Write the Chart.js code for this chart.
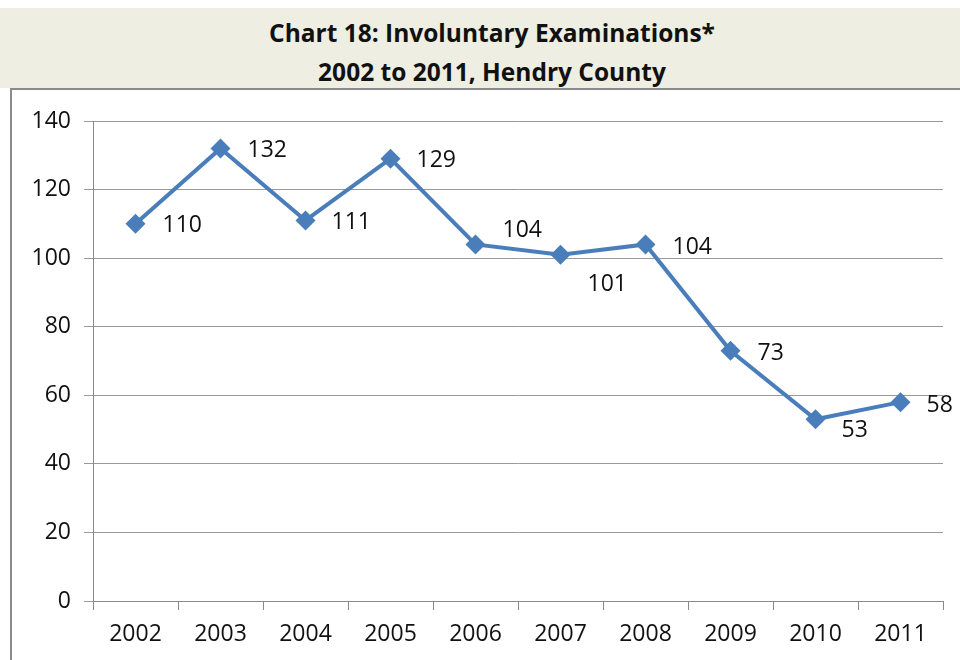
<!DOCTYPE html>
<html>
<head>
<meta charset="utf-8">
<script src="https://cdn.jsdelivr.net/npm/chart.js@4.4.0/dist/chart.umd.min.js"></script>
<style>
    body { margin: 0; background: #fff; width: 960px; height: 660px; overflow: hidden; }
    .band {
        position: absolute; left: 0; top: 8px; width: 960px; height: 80px;
        background: #eeeee2; text-align: center;
        font-family: "Open Sans", sans-serif; font-weight: bold;
        font-size: 24.5px; color: #111; line-height: 39px;
        padding-top: 5px; padding-left: 24px; box-sizing: border-box;
    }
    .box {
        position: absolute; left: 10px; top: 88px; width: 950px; height: 572px;
        border-left: 2px solid #8a8a8a; border-top: 2px solid #8a8a8a;
    }
</style>
</head>
<body>
<div class="band">Chart 18: Involuntary Examinations*<br>2002 to 2011, Hendry County</div>
<div class="box"><canvas id="c" width="948" height="570"></canvas></div>
<script>
const years = ["2002", "2003", "2004", "2005", "2006", "2007", "2008", "2009", "2010", "2011"];
const exams = [110, 132, 111, 129, 104, 101, 104, 73, 53, 58];
const yTicks = [0, 20, 40, 60, 80, 100, 120, 140];

const FONT = "'Open Sans', 'DejaVu Sans', sans-serif";

/* value labels, each nudged off its point like the original */
const labelPlugin = {
    id: "valueLabels",
    afterDatasetsDraw(chart, args, opts) {
        const ctx = chart.ctx;
        const meta = chart.getDatasetMeta(0);
        ctx.save();
        ctx.font = "23px " + FONT;
        ctx.fillStyle = "#111";
        ctx.textBaseline = "middle";
        ctx.textAlign = "left";
        meta.data.forEach((pt, i) => {
            const o = opts.offsets[i];
            ctx.fillText(chart.data.datasets[0].data[i], pt.x + o[0], pt.y + o[1]);
        });
        ctx.restore();
    }
};

new Chart(document.getElementById("c"), {
    type: "line",
    data: {
        labels: years,
        datasets: [{
            data: exams,
            borderColor: "#4a7ebb",
            backgroundColor: "#4a7ebb",
            borderWidth: 4,
            pointStyle: "rectRot",
            pointRadius: 10,
            pointBorderWidth: 0,
            tension: 0
        }]
    },
    options: {
        responsive: false,
        animation: false,
        layout: { padding: { top: 31, right: 17, left: 0, bottom: 0 } },
        plugins: {
            legend: { display: false },
            tooltip: { enabled: false },
            valueLabels: {
                offsets: [[27, 2], [27, 2], [26, 2], [26, 2], [27, -14], [27, 30], [27, 3], [27, 3], [26, 11], [26, 3]]
            }
        },
        scales: {
            x: {
                offset: true,
                grid: { offset: true, drawOnChartArea: false, color: "#8a8a8a", tickLength: 9 },
                border: { color: "#8a8a8a" },
                ticks: { color: "#111", font: { family: FONT, size: 23 }, padding: 11 },
                afterFit: s => { s.height = 59; }
            },
            y: {
                min: 0,
                max: 140,
                afterBuildTicks: s => { s.ticks = yTicks.map(v => ({ value: v })); },
                grid: { color: "#9a9a9a", tickLength: 9 },
                border: { color: "#8a8a8a" },
                ticks: { color: "#111", font: { family: FONT, size: 23 }, padding: 13 },
                afterFit: s => { s.width = 81; }
            }
        }
    },
    plugins: [labelPlugin]
});
</script>
</body>
</html>
